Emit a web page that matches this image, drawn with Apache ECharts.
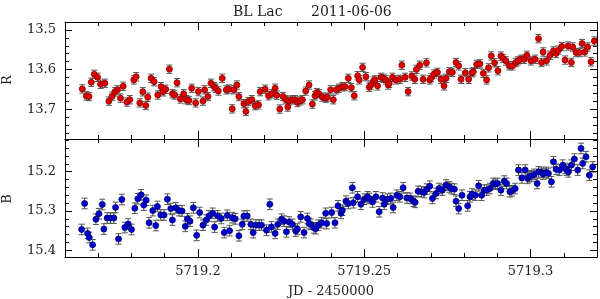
<!DOCTYPE html>
<html>
<head>
<meta charset="utf-8">
<script src="https://cdn.jsdelivr.net/npm/echarts@6/dist/echarts.min.js"></script>
<style>html,body{margin:0;padding:0;background:#fff}#c{width:600px;height:299px}</style>
</head>
<body>
<div id="c"></div>
<script>
// ---- data (JD - 2450000, magnitudes) ----
const tR = [5719.1652,5719.1664,5719.1672,5719.1679,5719.1688,5719.1698,5719.1707,5719.1720,5719.1732,5719.1742,5719.1750,5719.1758,5719.1767,5719.1775,5719.1786,5719.1795,5719.1807,5719.1814,5719.1825,5719.1834,5719.1843,5719.1849,5719.1859,5719.1868,5719.1879,5719.1889,5719.1895,5719.1903,5719.1914,5719.1923,5719.1930,5719.1937,5719.1947,5719.1957,5719.1965,5719.1973,5719.1981,5719.1993,5719.2001,5719.2015,5719.2020,5719.2030,5719.2039,5719.2049,5719.2053,5719.2061,5719.2073,5719.2085,5719.2093,5719.2103,5719.2108,5719.2117,5719.2123,5719.2138,5719.2144,5719.2151,5719.2162,5719.2172,5719.2182,5719.2187,5719.2202,5719.2212,5719.2222,5719.2232,5719.2237,5719.2246,5719.2256,5719.2264,5719.2270,5719.2274,5719.2284,5719.2292,5719.2299,5719.2306,5719.2314,5719.2324,5719.2334,5719.2344,5719.2352,5719.2357,5719.2364,5719.2374,5719.2384,5719.2389,5719.2399,5719.2407,5719.2416,5719.2424,5719.2434,5719.2442,5719.2452,5719.2461,5719.2470,5719.2480,5719.2485,5719.2495,5719.2505,5719.2515,5719.2520,5719.2528,5719.2532,5719.2540,5719.2550,5719.2558,5719.2565,5719.2572,5719.2575,5719.2585,5719.2595,5719.2607,5719.2613,5719.2623,5719.2632,5719.2643,5719.2652,5719.2657,5719.2667,5719.2677,5719.2687,5719.2697,5719.2702,5719.2710,5719.2720,5719.2731,5719.2740,5719.2746,5719.2756,5719.2765,5719.2776,5719.2784,5719.2791,5719.2804,5719.2814,5719.2824,5719.2828,5719.2838,5719.2848,5719.2858,5719.2868,5719.2874,5719.2882,5719.2892,5719.2902,5719.2911,5719.2918,5719.2926,5719.2936,5719.2946,5719.2956,5719.2962,5719.2971,5719.2981,5719.2989,5719.3001,5719.3014,5719.3024,5719.3033,5719.3038,5719.3048,5719.3059,5719.3069,5719.3077,5719.3084,5719.3094,5719.3104,5719.3113,5719.3123,5719.3127,5719.3137,5719.3147,5719.3155,5719.3163,5719.3172,5719.3182,5719.3192];
const mR = [13.6488,13.6663,13.668,13.632,13.612,13.6195,13.637,13.6345,13.6795,13.667,13.656,13.651,13.672,13.642,13.682,13.676,13.626,13.618,13.684,13.656,13.6905,13.6695,13.622,13.6305,13.664,13.643,13.656,13.6495,13.599,13.661,13.664,13.633,13.674,13.661,13.676,13.678,13.647,13.684,13.6555,13.6795,13.651,13.668,13.6345,13.643,13.647,13.654,13.622,13.651,13.649,13.699,13.651,13.639,13.668,13.686,13.7055,13.6805,13.676,13.691,13.689,13.6555,13.6495,13.666,13.661,13.647,13.6645,13.6995,13.668,13.676,13.6945,13.679,13.676,13.676,13.683,13.679,13.676,13.654,13.639,13.687,13.666,13.658,13.661,13.6695,13.672,13.6695,13.651,13.676,13.651,13.647,13.643,13.643,13.622,13.6455,13.666,13.6155,13.626,13.5945,13.618,13.6445,13.639,13.629,13.626,13.641,13.6195,13.622,13.626,13.639,13.6345,13.6195,13.626,13.6245,13.589,13.6195,13.6555,13.616,13.6245,13.5995,13.589,13.6245,13.583,13.626,13.6205,13.611,13.607,13.6245,13.641,13.622,13.6055,13.607,13.582,13.5905,13.6245,13.608,13.6245,13.608,13.6055,13.587,13.5855,13.6095,13.626,13.5955,13.5655,13.583,13.603,13.566,13.572,13.578,13.5905,13.5905,13.582,13.578,13.574,13.574,13.564,13.578,13.574,13.522,13.582,13.5555,13.578,13.564,13.553,13.5595,13.551,13.542,13.576,13.5405,13.582,13.543,13.557,13.557,13.5345,13.5555,13.543,13.5805,13.528];
const errR = 0.0105;

const tB = [5719.1650,5719.1659,5719.1668,5719.1673,5719.1683,5719.1693,5719.1702,5719.1712,5719.1717,5719.1727,5719.1737,5719.1747,5719.1752,5719.1761,5719.1771,5719.1780,5719.1790,5719.1800,5719.1810,5719.1819,5719.1829,5719.1837,5719.1844,5719.1853,5719.1864,5719.1873,5719.1878,5719.1888,5719.1898,5719.1908,5719.1918,5719.1923,5719.1933,5719.1943,5719.1952,5719.1962,5719.1968,5719.1976,5719.1986,5719.1996,5719.2005,5719.2015,5719.2025,5719.2033,5719.2044,5719.2050,5719.2059,5719.2070,5719.2079,5719.2088,5719.2095,5719.2103,5719.2112,5719.2123,5719.2133,5719.2138,5719.2148,5719.2159,5719.2166,5719.2174,5719.2184,5719.2191,5719.2206,5719.2216,5719.2221,5719.2232,5719.2240,5719.2251,5719.2259,5719.2266,5719.2274,5719.2284,5719.2294,5719.2299,5719.2309,5719.2319,5719.2329,5719.2334,5719.2339,5719.2349,5719.2354,5719.2362,5719.2372,5719.2384,5719.2387,5719.2402,5719.2412,5719.2421,5719.2430,5719.2434,5719.2445,5719.2452,5719.2464,5719.2467,5719.2480,5719.2490,5719.2500,5719.2510,5719.2515,5719.2525,5719.2535,5719.2545,5719.2555,5719.2560,5719.2570,5719.2580,5719.2587,5719.2598,5719.2607,5719.2617,5719.2628,5719.2638,5719.2648,5719.2653,5719.2662,5719.2672,5719.2680,5719.2688,5719.2697,5719.2705,5719.2716,5719.2725,5719.2735,5719.2746,5719.2756,5719.2762,5719.2771,5719.2776,5719.2784,5719.2794,5719.2811,5719.2818,5719.2824,5719.2834,5719.2844,5719.2853,5719.2861,5719.2868,5719.2878,5719.2888,5719.2894,5719.2901,5719.2911,5719.2921,5719.2928,5719.2938,5719.2944,5719.2954,5719.2964,5719.2974,5719.2984,5719.2991,5719.2996,5719.3002,5719.3011,5719.3020,5719.3024,5719.3033,5719.3038,5719.3047,5719.3054,5719.3063,5719.3069,5719.3077,5719.3087,5719.3097,5719.3104,5719.3109,5719.3114,5719.3123,5719.3132,5719.3142,5719.3152,5719.3157,5719.3167,5719.3177,5719.3187];
const mB = [15.347,15.281,15.357,15.3675,15.386,15.321,15.307,15.2835,15.346,15.318,15.318,15.318,15.291,15.371,15.271,15.342,15.333,15.347,15.293,15.269,15.259,15.285,15.2725,15.330,15.299,15.337,15.2886,15.310,15.310,15.270,15.294,15.323,15.292,15.299,15.300,15.339,15.320,15.326,15.292,15.362,15.304,15.336,15.323,15.3125,15.306,15.341,15.3125,15.319,15.355,15.311,15.350,15.317,15.320,15.363,15.334,15.313,15.3125,15.334,15.355,15.336,15.336,15.336,15.349,15.283,15.3405,15.357,15.334,15.321,15.326,15.353,15.328,15.334,15.351,15.346,15.315,15.355,15.319,15.332,15.334,15.343,15.345,15.336,15.330,15.306,15.332,15.304,15.330,15.287,15.306,15.298,15.275,15.281,15.241,15.279,15.264,15.283,15.270,15.264,15.268,15.277,15.264,15.302,15.267,15.283,15.270,15.268,15.291,15.260,15.264,15.241,15.267,15.268,15.275,15.278,15.250,15.251,15.253,15.2445,15.237,15.268,15.2555,15.243,15.247,15.234,15.239,15.243,15.2445,15.275,15.294,15.260,15.287,15.264,15.257,15.260,15.236,15.260,15.247,15.247,15.243,15.230,15.232,15.230,15.247,15.224,15.230,15.251,15.249,15.243,15.196,15.216,15.196,15.217,15.213,15.211,15.207,15.230,15.2005,15.202,15.206,15.202,15.2045,15.226,15.175,15.194,15.196,15.1835,15.192,15.196,15.2005,15.1835,15.168,15.196,15.141,15.179,15.162,15.209,15.188];
const errB = 0.0135;

// tick values
const xMajor = [5719.2, 5719.25, 5719.3];
const xMinor = [5719.17,5719.18,5719.19,5719.21,5719.22,5719.23,5719.24,5719.26,5719.27,5719.28,5719.29,5719.31];
const yMajorR = [13.5, 13.6, 13.7];
const yMinorR = [13.48,13.52,13.54,13.56,13.58,13.62,13.64,13.66,13.68,13.72,13.74,13.76];
const yMajorB = [15.2, 15.3, 15.4];
const yMinorB = [15.12,15.14,15.16,15.18,15.22,15.24,15.26,15.28,15.32,15.34,15.36,15.38];

const X_MIN = 5719.16, X_MAX = 5719.32;
const R_MIN = 13.48, R_MAX = 13.775;
const B_MIN = 15.117, B_MAX = 15.417;

const FONT = 'DejaVu Serif';
const TXT = '#222';

function xAx(g, pos, vals, len, line, labels) {
  return {
    type: 'value', gridIndex: g, position: pos, min: X_MIN, max: X_MAX,
    axisLine: {show: line, onZero: false, lineStyle: {color: '#000', width: 1}},
    axisTick: {show: true, inside: true, length: len, customValues: vals, lineStyle: {color: '#000', width: 1}},
    axisLabel: {show: labels, customValues: vals, margin: 8, fontFamily: FONT, fontSize: 13, color: TXT,
      formatter: v => String(+v.toFixed(4))},
    splitLine: {show: false}
  };
}
function yAx(g, pos, mn, mx, vals, len, line, labels) {
  return {
    type: 'value', gridIndex: g, position: pos, min: mn, max: mx, inverse: true,
    axisLine: {show: line, onZero: false, lineStyle: {color: '#000', width: 1}},
    axisTick: {show: true, inside: true, length: len, customValues: vals, lineStyle: {color: '#000', width: 1}},
    axisLabel: {show: labels, customValues: vals, margin: 9, fontFamily: FONT, fontSize: 13, color: TXT,
      formatter: v => v.toFixed(1)},
    splitLine: {show: false}
  };
}

function errSeries(xi, yi, t, m, e, color) {
  return {
    type: 'custom', xAxisIndex: xi, yAxisIndex: yi, z: 2, silent: true,
    data: t.map((v, i) => [v, m[i], e]),
    encode: {x: 0, y: 1},
    renderItem: function (params, api) {
      const x = api.value(0), y = api.value(1), er = api.value(2);
      const a = api.coord([x, y - er]), b = api.coord([x, y + er]);
      const w = 3, st = {stroke: color, lineWidth: 1};
      return {type: 'group', children: [
        {type: 'line', shape: {x1: a[0], y1: a[1], x2: b[0], y2: b[1]}, style: st},
        {type: 'line', shape: {x1: a[0] - w, y1: a[1], x2: a[0] + w, y2: a[1]}, style: st},
        {type: 'line', shape: {x1: b[0] - w, y1: b[1], x2: b[0] + w, y2: b[1]}, style: st}
      ]};
    }
  };
}

const chart = echarts.init(document.getElementById('c'), null, {renderer: 'canvas'});
chart.setOption({
  animation: false,
  backgroundColor: '#fff',
  grid: [
    {left: 65, right: 3, top: 22, height: 117},
    {left: 65, right: 3, top: 139, height: 118}
  ],
  xAxis: [
    xAx(0, 'bottom', xMajor, 8, true, false),
    xAx(0, 'bottom', xMinor, 4, false, false),
    xAx(0, 'top', xMajor, 8, true, false),
    xAx(0, 'top', xMinor, 4, false, false),
    xAx(1, 'bottom', xMajor, 8, true, true),
    xAx(1, 'bottom', xMinor, 4, false, false),
    xAx(1, 'top', xMajor, 8, true, false),
    xAx(1, 'top', xMinor, 4, false, false)
  ],
  yAxis: [
    yAx(0, 'left', R_MIN, R_MAX, yMajorR, 7, true, true),
    yAx(0, 'left', R_MIN, R_MAX, yMinorR, 4, false, false),
    yAx(0, 'right', R_MIN, R_MAX, yMajorR, 7, true, false),
    yAx(0, 'right', R_MIN, R_MAX, yMinorR, 4, false, false),
    yAx(1, 'left', B_MIN, B_MAX, yMajorB, 7, true, true),
    yAx(1, 'left', B_MIN, B_MAX, yMinorB, 4, false, false),
    yAx(1, 'right', B_MIN, B_MAX, yMajorB, 7, true, false),
    yAx(1, 'right', B_MIN, B_MAX, yMinorB, 4, false, false)
  ],
  series: [
    errSeries(0, 0, tR, mR, errR, '#555'),
    {type: 'scatter', xAxisIndex: 0, yAxisIndex: 0, z: 3, symbol: 'circle', symbolSize: 6,
      data: tR.map((v, i) => [v, mR[i]]),
      itemStyle: {color: '#dd0000', borderColor: '#8a0000', borderWidth: 0.8, opacity: 1}},
    errSeries(4, 4, tB, mB, errB, '#555'),
    {type: 'scatter', xAxisIndex: 4, yAxisIndex: 4, z: 3, symbol: 'circle', symbolSize: 6,
      data: tB.map((v, i) => [v, mB[i]]),
      itemStyle: {color: '#0000cc', borderColor: '#000075', borderWidth: 0.8, opacity: 1}}
  ],
  graphic: [
    {type: 'text', x: 233, y: 12, style: {text: 'BL Lac', fontFamily: FONT, fontSize: 14, fill: TXT, textVerticalAlign: 'middle'}},
    {type: 'text', x: 311, y: 12, style: {text: '2011-06-06', fontFamily: FONT, fontSize: 14, fill: TXT, textVerticalAlign: 'middle'}},
    {type: 'text', x: 8, y: 80, rotation: Math.PI / 2, style: {text: 'R', fontFamily: FONT, fontSize: 13, fill: TXT, textAlign: 'center', textVerticalAlign: 'middle'}},
    {type: 'text', x: 8, y: 199, rotation: Math.PI / 2, style: {text: 'B', fontFamily: FONT, fontSize: 13, fill: TXT, textAlign: 'center', textVerticalAlign: 'middle'}},
    {type: 'text', x: 331, y: 292, style: {text: 'JD - 2450000', fontFamily: FONT, fontSize: 13, fill: TXT, textAlign: 'center', textVerticalAlign: 'middle'}}
  ]
});
</script>
</body>
</html>
